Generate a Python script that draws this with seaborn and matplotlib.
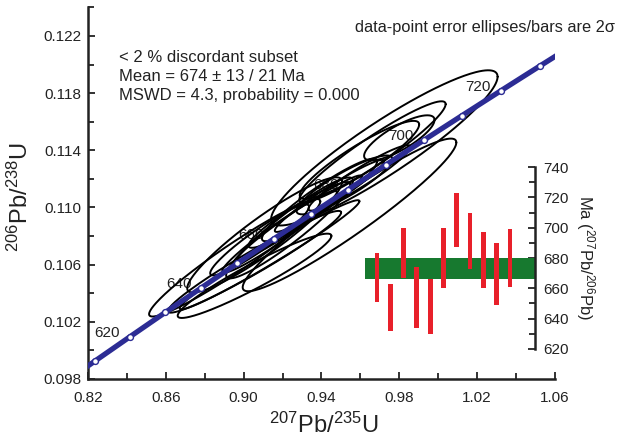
import numpy as np
import seaborn as sns
import matplotlib
matplotlib.use('Agg')
from matplotlib import pyplot as plt
from matplotlib.ticker import MultipleLocator

# decay constants (1/yr)
LAMBDA_238 = 1.55125e-10
LAMBDA_235 = 9.8485e-10

# zircon analyses, errors are 2 sigma
pb207_u235 = [0.8954, 0.9056, 0.9056, 0.9082, 0.9108, 0.9236, 0.9287, 0.9390,
              0.9518, 0.9544, 0.9662, 0.9723, 0.9800, 0.9595, 0.9133,
              0.9287, 0.9441, 0.9185, 0.9595]
err_207_235 = [0.0440, 0.0445, 0.0395, 0.0254, 0.0398, 0.0326, 0.0262, 0.0296,
               0.0246, 0.0549, 0.0376, 0.0582, 0.0181, 0.0307, 0.0462,
               0.0319, 0.0281, 0.0295, 0.0262]
pb206_u238 = [0.10648, 0.10620, 0.10522, 0.10773, 0.10808, 0.10857, 0.10948, 0.11053,
              0.11158, 0.10948, 0.11389, 0.11417, 0.11487, 0.11333, 0.10669,
              0.10927, 0.11081, 0.10829, 0.11207]
err_206_238 = [0.00411, 0.00356, 0.00295, 0.00248, 0.00403, 0.00353, 0.00230, 0.00289,
               0.00206, 0.00534, 0.00354, 0.00543, 0.00158, 0.00273, 0.00382,
               0.00297, 0.00252, 0.00285, 0.00229]
rho = [0.959, 0.968, 0.946, 0.939, 0.925, 0.937, 0.935, 0.936,
       0.884, 0.949, 0.943, 0.917, 0.795, 0.906, 0.981,
       0.974, 0.963, 0.964, 0.946]

# concordia
concordia_ages = [600, 610, 620, 630, 640, 650, 660, 670, 680, 690, 700, 710, 720, 730, 740]
marker_ages = [610, 620, 630, 640, 650, 660, 670, 680, 690, 700, 710, 720, 730]
label_ages = [620, 640, 660, 680, 700, 720]

# inset: 207Pb/206Pb ages (Ma), 2 sigma bars
age_low = [651, 632, 667, 634, 630, 660, 687, 673, 660, 649, 661]
age_high = [683, 663, 700, 674, 666, 700, 723, 710, 697, 690, 699]
mean_band = (666, 680)

sns.set_theme(style='ticks')
plt.rcParams['font.family'] = ['Liberation Sans', 'DejaVu Sans']
plt.rcParams['mathtext.default'] = 'regular'


def concordia(t_ma):
    t = np.asarray(t_ma) * 1e6
    return np.exp(LAMBDA_235 * t) - 1, np.exp(LAMBDA_238 * t) - 1


fig = plt.figure(figsize=(6.17, 4.43), dpi=100)
ax = fig.add_axes([0.1426, 0.1445, 0.7569, 0.8388])

# error ellipses
t = np.linspace(0, 2 * np.pi, 240)
for x0, sx, y0, sy, r in zip(pb207_u235, err_207_235, pb206_u238, err_206_238, rho):
    ex = x0 + sx * np.cos(t)
    ey = y0 + sy * (r * np.cos(t) + np.sqrt(1 - r * r) * np.sin(t))
    ax.plot(ex, ey, color='black', lw=1.4, zorder=3)

cx, cy = concordia(concordia_ages)
sns.lineplot(x=cx, y=cy, sort=False, color='#2c2c94', lw=3.8, ax=ax, zorder=4)
mx, my = concordia(marker_ages)
sns.scatterplot(x=mx, y=my, color='white', edgecolor='#2c2c94', s=18, linewidth=1,
                ax=ax, zorder=5)
lx, ly = concordia(label_ages)
for a, x, y in zip(label_ages, lx, ly):
    ax.annotate(str(a), (x, y), xytext=(-7, 3), textcoords='offset points',
                ha='right', va='center', fontsize=11, color='#222222', zorder=2)

ax.set_xlim(0.82, 1.06)
ax.set_ylim(0.098, 0.124)
ax.xaxis.set_minor_locator(MultipleLocator(0.02))
ax.yaxis.set_minor_locator(MultipleLocator(0.002))
ax.set_xticks([0.82, 0.86, 0.90, 0.94, 0.98, 1.02, 1.06])
ax.set_xticklabels(['0.82', '0.86', '0.90', '0.94', '0.98', '1.02', '1.06'])
ax.set_yticks([0.098, 0.102, 0.106, 0.110, 0.114, 0.118, 0.122])
ax.set_yticklabels(['0.098', '0.102', '0.106', '0.110', '0.114', '0.118', '0.122'])
ax.tick_params(which='both', direction='in', width=1.3, colors='#222222', labelsize=11)
ax.tick_params(which='major', length=5)
ax.tick_params(which='minor', length=4)
ax.tick_params(axis='x', pad=9)
ax.tick_params(axis='y', pad=5)
sns.despine(ax=ax)
for s in ['left', 'bottom']:
    ax.spines[s].set_linewidth(1.8)
    ax.spines[s].set_color('#222222')

ax.set_xlabel('$^{207}$Pb/$^{235}$U', fontsize=17, color='#222222')
ax.set_ylabel('$^{206}$Pb/$^{238}$U', fontsize=17, color='#222222')
ax.xaxis.set_label_coords(0.505, -0.125)
ax.xaxis.label.set_va('center')
ax.yaxis.set_label_coords(-0.146, 0.49)
ax.yaxis.label.set_va('center')

ax.text(0.066, 0.8665, '< 2 % discordant subset', transform=ax.transAxes,
        fontsize=12, va='center', color='#222222')
ax.text(0.066, 0.8127, 'Mean = 674 \u00b1 13 / 21 Ma', transform=ax.transAxes,
        fontsize=12, va='center', color='#222222')
ax.text(0.066, 0.7616, 'MSWD = 4.3, probability = 0.000', transform=ax.transAxes,
        fontsize=12, va='center', color='#222222')
fig.text(0.997, 0.939, 'data-point error ellipses/bars are 2\u03c3', ha='right',
         va='center', fontsize=11.8, color='#222222')

# inset of 207Pb/206Pb ages
ax2 = fig.add_axes([365 / 617, 0.2122, 170 / 617, 0.4108])
ax2.patch.set_alpha(0)
pos = np.arange(len(age_low))
ax2.axhspan(mean_band[0], mean_band[1], color='#17792f', lw=0, zorder=1)
ax2.bar(pos, np.array(age_high) - np.array(age_low), bottom=age_low, width=0.36,
        color='#e8202a', lw=0, zorder=2)
ax2.set_xlim(-0.9, 11.88)
ax2.set_ylim(620, 740)
ax2.yaxis.set_major_locator(MultipleLocator(20))
ax2.yaxis.set_minor_locator(MultipleLocator(10))
ax2.yaxis.tick_right()
ax2.yaxis.set_label_position('right')
ax2.set_xticks([])
for s in ['left', 'top', 'bottom']:
    ax2.spines[s].set_visible(False)
ax2.spines['right'].set_linewidth(1.8)
ax2.spines['right'].set_color('#222222')
ax2.tick_params(which='both', direction='in', width=1.3, colors='#222222', labelsize=11)
ax2.tick_params(which='major', length=5, pad=6)
ax2.tick_params(which='minor', length=4)
ax2.set_ylabel('Ma ($^{207}$Pb/$^{206}$Pb)', rotation=270, fontsize=12,
               color='#222222', labelpad=20)

plt.savefig('out.png', dpi=100)
